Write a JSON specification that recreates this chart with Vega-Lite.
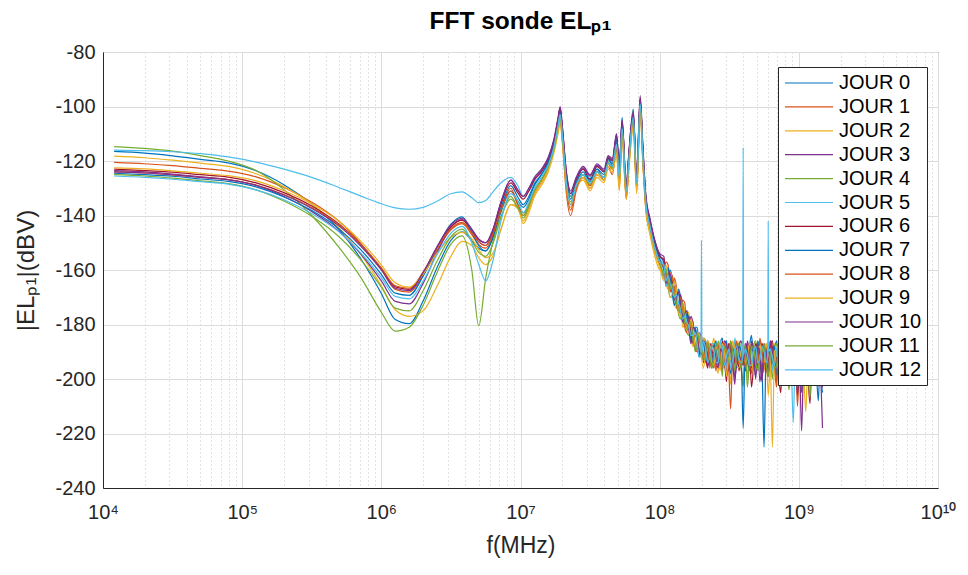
{
"$schema": "https://vega.github.io/schema/vega-lite/v6.json",
"width": 835, "height": 436,
"autosize": {"type": "none"},
"padding": {"left": 103, "top": 52, "right": 30, "bottom": 87},
"background": "white",
"title": {"text": "FFT sonde ELₚ₁", "fontSize": 24.5, "fontWeight": "bold", "font": "Liberation Sans", "color": "#000000", "anchor": "middle", "offset": 8},
"config": {"view": {"stroke": "#262626", "strokeWidth": 1}, "font": "Liberation Sans"},
"data": {"values": [
{"f":12023,"J0":-116.5,"J1":-120.5,"J2":-118.2,"J3":-123.5,"J4":-114.7,"J5":-116,"J6":-123,"J7":-124.5,"J8":-124,"J9":-122.5,"J10":-124,"J11":-125,"J12":-125.5},
{"f":19953,"J0":-117.1,"J1":-121.0,"J2":-118.8,"J3":-124.0,"J4":-115.4,"J5":-116.2,"J6":-123.5,"J7":-125.0,"J8":-124.4,"J9":-122.9,"J10":-124.4,"J11":-125.5,"J12":-126},
{"f":31623,"J0":-118.1,"J1":-121.7,"J2":-119.7,"J3":-124.8,"J4":-116.4,"J5":-116.6,"J6":-124.1,"J7":-125.6,"J8":-125.1,"J9":-123.6,"J10":-125.1,"J11":-126.3,"J12":-126.7},
{"f":50119,"J0":-119.4,"J1":-122.7,"J2":-120.8,"J3":-125.8,"J4":-118.0,"J5":-117.3,"J6":-125.0,"J7":-126.6,"J8":-126.0,"J9":-124.5,"J10":-126.0,"J11":-127.3,"J12":-127.6},
{"f":79433,"J0":-120.7,"J1":-123.7,"J2":-122.0,"J3":-126.8,"J4":-120.0,"J5":-118.5,"J6":-125.9,"J7":-127.5,"J8":-126.8,"J9":-125.4,"J10":-126.9,"J11":-128.3,"J12":-128.5},
{"f":125893,"J0":-123.6,"J1":-125.8,"J2":-124.7,"J3":-129.0,"J4":-123.5,"J5":-120.4,"J6":-128.0,"J7":-129.5,"J8":-128.8,"J9":-127.3,"J10":-128.9,"J11":-130.6,"J12":-130.6},
{"f":199526,"J0":-128.7,"J1":-129.7,"J2":-129.4,"J3":-133.0,"J4":-130.5,"J5":-123,"J6":-131.6,"J7":-133.2,"J8":-132.3,"J9":-130.9,"J10":-132.5,"J11":-134.7,"J12":-134.2},
{"f":316228,"J0":-135.8,"J1":-135.1,"J2":-135.8,"J3":-138.5,"J4":-140,"J5":-126,"J6":-136.5,"J7":-138.2,"J8":-137.1,"J9":-135.7,"J10":-137.4,"J11":-140.3,"J12":-139.3},
{"f":501187,"J0":-145.4,"J1":-142.3,"J2":-144.7,"J3":-146.0,"J4":-152,"J5":-129.8,"J6":-143.3,"J7":-145.1,"J8":-143.6,"J9":-142.3,"J10":-144,"J11":-148,"J12":-146.2},
{"f":707946,"J0":-155.7,"J1":-150.1,"J2":-154.1,"J3":-154.0,"J4":-162.5,"J5":-132.8,"J6":-150.5,"J7":-152.4,"J8":-150.5,"J9":-149.3,"J10":-151.1,"J11":-156.1,"J12":-153.6},
{"f":1000000,"J0":-168.6,"J1":-159.8,"J2":-165.8,"J3":-164.0,"J4":-175.5,"J5":-135.7,"J6":-159.5,"J7":-161.6,"J8":-159.2,"J9":-158.1,"J10":-160,"J11":-166.3,"J12":-162.8},
{"f":1258925,"J0":-178.2,"J1":-167.1,"J2":-174.6,"J3":-171.5,"J4":-182.4,"J5":-137.2,"J6":-166.2,"J7":-168.5,"J8":-165.8,"J9":-164.7,"J10":-166.7,"J11":-174,"J12":-169.7},
{"f":1584893,"J0":-179.7,"J1":-168.1,"J2":-177,"J3":-172.4,"J4":-181,"J5":-137.7,"J6":-167.1,"J7":-169.3,"J8":-166.7,"J9":-166.3,"J10":-167.6,"J11":-175,"J12":-170.6},
{"f":1995262,"J0":-171.4,"J1":-162,"J2":-175,"J3":-164.9,"J4":-173,"J5":-137,"J6":-160.9,"J7":-162.3,"J8":-160.8,"J9":-161.5,"J10":-161,"J11":-167.6,"J12":-164.1},
{"f":2511886,"J0":-159.2,"J1":-152.9,"J2":-166,"J3":-153.7,"J4":-161,"J5":-134.8,"J6":-151.7,"J7":-151.8,"J8":-152,"J9":-154,"J10":-151.5,"J11":-156.8,"J12":-154.4},
{"f":3162278,"J0":-149.1,"J1":-145.3,"J2":-155,"J3":-144.4,"J4":-150.5,"J5":-132,"J6":-144.1,"J7":-143.2,"J8":-144.8,"J9":-148,"J10":-143.5,"J11":-147.8,"J12":-146.5},
{"f":3801894,"J0":-146,"J1":-143,"J2":-149.5,"J3":-141.5,"J4":-147.5,"J5":-131.3,"J6":-141.7,"J7":-140.5,"J8":-142.5,"J9":-146.2,"J10":-141,"J11":-145,"J12":-144},
{"f":4466836,"J0":-149.2,"J1":-147,"J2":-151,"J3":-145.3,"J4":-160,"J5":-133.5,"J6":-145.9,"J7":-146.1,"J8":-146.3,"J9":-148.5,"J10":-145,"J11":-149.5,"J12":-150},
{"f":5011872,"J0":-152,"J1":-150.7,"J2":-155.5,"J3":-148.7,"J4":-180.5,"J5":-135.3,"J6":-149.6,"J7":-151.1,"J8":-149.7,"J9":-152.5,"J10":-148.7,"J11":-153.5,"J12":-158},
{"f":5623413,"J0":-153,"J1":-152,"J2":-158,"J3":-150,"J4":-163,"J5":-134.5,"J6":-151,"J7":-153,"J8":-151,"J9":-155.5,"J10":-150,"J11":-155,"J12":-164},
{"f":6309573,"J0":-148.6,"J1":-147.6,"J2":-155,"J3":-145.4,"J4":-150,"J5":-131.5,"J6":-146.4,"J7":-148.2,"J8":-147,"J9":-154,"J10":-145.4,"J11":-150.6,"J12":-157},
{"f":7244360,"J0":-138.7,"J1":-137.7,"J2":-145,"J3":-135,"J4":-140.5,"J5":-128,"J6":-136,"J7":-137.4,"J8":-138,"J9":-145,"J10":-135,"J11":-140.7,"J12":-142},
{"f":8511380,"J0":-131,"J1":-130,"J2":-136,"J3":-127,"J4":-134,"J5":-126,"J6":-128,"J7":-129,"J8":-131,"J9":-136,"J10":-127,"J11":-133,"J12":-132},
{"f":9549926,"J0":-134.6,"J1":-136,"J2":-136.5,"J3":-130.6,"J4":-137,"J5":-129,"J6":-131.6,"J7":-133.2,"J8":-135.8,"J9":-137.5,"J10":-130.6,"J11":-137.2,"J12":-134.6},
{"f":10471285,"J0":-137,"J1":-140,"J2":-143,"J3":-133,"J4":-141,"J5":-133,"J6":-134,"J7":-136,"J8":-139,"J9":-142,"J10":-133,"J11":-140,"J12":-139},
{"f":11481536,"J0":-134,"J1":-137,"J2":-139,"J3":-130,"J4":-137,"J5":-131,"J6":-131,"J7":-133,"J8":-136,"J9":-138,"J10":-130,"J11":-136,"J12":-135},
{"f":12589254,"J0":-129,"J1":-132,"J2":-133,"J3":-126,"J4":-131,"J5":-128,"J6":-127,"J7":-128.5,"J8":-131,"J9":-132,"J10":-126.5,"J11":-131,"J12":-130},
{"f":14125375,"J0":-125,"J1":-128,"J2":-129,"J3":-123,"J4":-127,"J5":-125,"J6":-124,"J7":-125,"J8":-127,"J9":-128,"J10":-123.5,"J11":-127,"J12":-126},
{"f":15848932,"J0":-120,"J1":-123,"J2":-124,"J3":-118.5,"J4":-122,"J5":-121,"J6":-119.5,"J7":-120.5,"J8":-122,"J9":-123,"J10":-119,"J11":-122,"J12":-121.5},
{"f":17378008,"J0":-114,"J1":-115,"J2":-117,"J3":-112,"J4":-116,"J5":-115,"J6":-113,"J7":-114,"J8":-115,"J9":-116,"J10":-112.5,"J11":-115.5,"J12":-115},
{"f":18620871,"J0":-105,"J1":-108,"J2":-110,"J3":-104,"J4":-108,"J5":-107,"J6":-105,"J7":-106,"J8":-107,"J9":-109,"J10":-104.5,"J11":-107.5,"J12":-107},
{"f":19275249,"J0":-100.5,"J1":-104,"J2":-106,"J3":-100,"J4":-104.5,"J5":-104,"J6":-101,"J7":-102,"J8":-103,"J9":-105,"J10":-100.5,"J11":-103.5,"J12":-103},
{"f":19952623,"J0":-108,"J1":-112,"J2":-113,"J3":-107,"J4":-111,"J5":-110,"J6":-108,"J7":-109,"J8":-111,"J9":-112,"J10":-107,"J11":-110.5,"J12":-110},
{"f":21379621,"J0":-128,"J1":-132,"J2":-131,"J3":-124,"J4":-129,"J5":-127,"J6":-125,"J7":-126,"J8":-130,"J9":-129,"J10":-124.5,"J11":-128,"J12":-128},
{"f":22908677,"J0":-133,"J1":-140,"J2":-137,"J3":-131,"J4":-136,"J5":-133,"J6":-132,"J7":-134,"J8":-138,"J9":-136,"J10":-132,"J11":-135,"J12":-136},
{"f":25118864,"J0":-128,"J1":-131,"J2":-130,"J3":-126,"J4":-129,"J5":-127,"J6":-127,"J7":-128,"J8":-130,"J9":-129,"J10":-126.5,"J11":-129,"J12":-129},
{"f":28183829,"J0":-125,"J1":-126,"J2":-127,"J3":-122,"J4":-125,"J5":-123,"J6":-123,"J7":-124,"J8":-126,"J9":-126,"J10":-122.5,"J11":-125,"J12":-125},
{"f":31622777,"J0":-126.5,"J1":-130,"J2":-131,"J3":-125,"J4":-129,"J5":-126,"J6":-127,"J7":-127.5,"J8":-129,"J9":-130,"J10":-125.5,"J11":-128.5,"J12":-128},
{"f":35481339,"J0":-123,"J1":-125,"J2":-126,"J3":-121,"J4":-124,"J5":-122,"J6":-122,"J7":-123,"J8":-124,"J9":-125,"J10":-121.5,"J11":-124,"J12":-124},
{"f":39810717,"J0":-127,"J1":-127,"J2":-128,"J3":-123,"J4":-126,"J5":-124,"J6":-124,"J7":-125,"J8":-126,"J9":-127,"J10":-123.5,"J11":-126,"J12":-126},
{"f":42657952,"J0":-118.5,"J1":-122,"J2":-123,"J3":-118,"J4":-120.5,"J5":-120,"J6":-119,"J7":-119.5,"J8":-121,"J9":-122,"J10":-118.5,"J11":-120.5,"J12":-121},
{"f":45708819,"J0":-122,"J1":-125,"J2":-124,"J3":-119,"J4":-123,"J5":-121,"J6":-120,"J7":-121,"J8":-123,"J9":-123,"J10":-119.5,"J11":-122.5,"J12":-122},
{"f":48977882,"J0":-110,"J1":-116,"J2":-118,"J3":-110,"J4":-114,"J5":-113,"J6":-111,"J7":-112,"J8":-115,"J9":-117,"J10":-111,"J11":-114,"J12":-114},
{"f":51286138,"J0":-124,"J1":-130,"J2":-131,"J3":-122,"J4":-126,"J5":-125,"J6":-123,"J7":-124,"J8":-128,"J9":-129,"J10":-123,"J11":-126,"J12":-126},
{"f":53703180,"J0":-104,"J1":-110,"J2":-112,"J3":-105,"J4":-109,"J5":-108,"J6":-106,"J7":-107,"J8":-109,"J9":-111,"J10":-105.5,"J11":-108.5,"J12":-108},
{"f":57543994,"J0":-132,"J1":-134,"J2":-134,"J3":-128,"J4":-131,"J5":-130,"J6":-129,"J7":-130,"J8":-133,"J9":-133,"J10":-129,"J11":-131,"J12":-131},
{"f":60255959,"J0":-117,"J1":-121,"J2":-122,"J3":-116,"J4":-119,"J5":-119,"J6":-117,"J7":-118,"J8":-120,"J9":-121,"J10":-116.5,"J11":-119,"J12":-119},
{"f":64565423,"J0":-101,"J1":-106,"J2":-108,"J3":-102,"J4":-105,"J5":-105,"J6":-103,"J7":-104,"J8":-105,"J9":-107,"J10":-102.5,"J11":-105,"J12":-104},
{"f":68391165,"J0":-128,"J1":-130,"J2":-132,"J3":-125,"J4":-129,"J5":-127,"J6":-126,"J7":-127,"J8":-130,"J9":-131,"J10":-125.5,"J11":-128.5,"J12":-128},
{"f":72443596,"J0":-99,"J1":-101,"J2":-103,"J3":-96,"J4":-100,"J5":-100,"J6":-97,"J7":-98,"J8":-100,"J9":-102,"J10":-97,"J11":-99.5,"J12":-99},
{"f":75857758,"J0":-116,"J1":-121,"J2":-122,"J3":-115,"J4":-119,"J5":-120,"J6":-117,"J7":-118,"J8":-120,"J9":-121,"J10":-116,"J11":-119,"J12":-119},
{"f":79432823,"J0":-133,"J1":-137,"J2":-138,"J3":-132,"J4":-136,"J5":-134,"J6":-134,"J7":-135,"J8":-136,"J9":-137,"J10":-133,"J11":-135.5,"J12":-135},
{"f":85113804,"J0":-142,"J1":-146,"J2":-147,"J3":-141,"J4":-144,"J5":-143,"J6":-142,"J7":-143,"J8":-145,"J9":-146,"J10":-141.5,"J11":-144,"J12":-144},
{"f":91201084,"J0":-149,"J1":-152,"J2":-154,"J3":-148,"J4":-151,"J5":-150,"J6":-149,"J7":-150,"J8":-151,"J9":-153,"J10":-148.5,"J11":-151,"J12":-151},
{"f":1e8,"J0":-155,"J1":-158,"J2":-160,"J3":-154,"J4":-157,"J5":-156,"J6":-155,"J7":-156,"J8":-157,"J9":-159,"J10":-154.5,"J11":-157,"J12":-157},
{"f":1.0715e8,"J0":-157,"J1":-162,"J2":-161,"J3":-155,"J4":-163,"J5":-158,"J6":-156,"J7":-160,"J8":-159,"J9":-164,"J10":-157,"J11":-161,"J12":-158},
{"f":1.1092e8,"J0":-166,"J1":-157,"J2":-165,"J3":-162,"J4":-159,"J5":-166,"J6":-163,"J7":-164,"J8":-161,"J9":-158,"J10":-165,"J11":-160,"J12":-164},
{"f":1.1482e8,"J0":-164,"J1":-158,"J2":-167,"J3":-160,"J4":-166,"J5":-163,"J6":-161,"J7":-159,"J8":-165,"J9":-162,"J10":-163,"J11":-164,"J12":-162},
{"f":1.1885e8,"J0":-160,"J1":-167,"J2":-161,"J3":-168,"J4":-170,"J5":-162,"J6":-166,"J7":-163,"J8":-168,"J9":-170,"J10":-161,"J11":-167,"J12":-165},
{"f":1.2303e8,"J0":-163,"J1":-168,"J2":-163,"J3":-165,"J4":-170,"J5":-167,"J6":-164,"J7":-168,"J8":-162,"J9":-169,"J10":-166,"J11":-165,"J12":-167},
{"f":1.2735e8,"J0":-171,"J1":-163,"J2":-172,"J3":-164,"J4":-166,"J5":-172,"J6":-170,"J7":-173,"J8":-167,"J9":-164,"J10":-171,"J11":-169,"J12":-170},
{"f":1.3183e8,"J0":-172,"J1":-166,"J2":-174,"J3":-168,"J4":-169,"J5":-171,"J6":-169,"J7":-171,"J8":-173,"J9":-167,"J10":-170,"J11":-172,"J12":-169},
{"f":1.3646e8,"J0":-167,"J1":-174,"J2":-169,"J3":-175,"J4":-176,"J5":-169,"J6":-173,"J7":-168,"J8":-175,"J9":-175,"J10":-168,"J11":-175,"J12":-172},
{"f":1.4125e8,"J0":-170,"J1":-176,"J2":-171,"J3":-169,"J4":-178,"J5":-174,"J6":-175,"J7":-172,"J8":-170,"J9":-177,"J10":-173,"J11":-174,"J12":-175},
{"f":1.4622e8,"J0":-178,"J1":-171,"J2":-181,"J3":-173,"J4":-173,"J5":-179,"J6":-177,"J7":-178,"J8":-174,"J9":-172,"J10":-179,"J11":-172,"J12":-178},
{"f":1.5136e8,"J0":-179,"J1":-172,"J2":-180,"J3":-175,"J4":-176,"J5":-176,"J6":-178,"J7":-180,"J8":-181,"J9":-175,"J10":-176,"J11":-179,"J12":-177},
{"f":1.5668e8,"J0":-175,"J1":-181,"J2":-175,"J3":-182,"J4":-183,"J5":-177,"J6":-181,"J7":-176,"J8":-183,"J9":-182,"J10":-175,"J11":-182,"J12":-179},
{"f":1.6218e8,"J0":-178,"J1":-182,"J2":-176,"J3":-181,"J4":-184,"J5":-181,"J6":-177,"J7":-179,"J8":-178,"J9":-183,"J10":-182,"J11":-180,"J12":-181},
{"f":1.6788e8,"J0":-185,"J1":-178,"J2":-185,"J3":-177,"J4":-179,"J5":-186,"J6":-183,"J7":-186,"J8":-180,"J9":-178,"J10":-187,"J11":-179,"J12":-184},
{"f":1.7378e8,"J0":-186,"J1":-179,"J2":-188,"J3":-180,"J4":-182,"J5":-185,"J6":-187,"J7":-184,"J8":-183,"J9":-181,"J10":-181,"J11":-186,"J12":-184},
{"f":1.7989e8,"J0":-181,"J1":-188,"J2":-182,"J3":-188,"J4":-190,"J5":-181,"J6":-184,"J7":-181,"J8":-189,"J9":-188,"J10":-182,"J11":-189,"J12":-183},
{"f":1.8621e8,"J0":-181,"J1":-189,"J2":-183,"J3":-187,"J4":-188,"J5":-184,"J6":-185,"J7":-188,"J8":-190,"J9":-186,"J10":-185,"J11":-183,"J12":-187},
{"f":1.9275e8,"J0":-189,"J1":-185,"J2":-191,"J3":-183,"J4":-185,"J5":-191,"J6":-191,"J7":-192,"J8":-184,"J9":-183,"J10":-190,"J11":-186,"J12":-192},
{"f":1.9815e8,"J12":-191},
{"f":1.9953e8,"J0":-190,"J1":-184,"J2":-192,"J3":-185,"J4":-191,"J5":-190,"J6":-189,"J7":-187,"J8":-186,"J9":-192,"J10":-191,"J11":-188,"J12":-149},
{"f":2.0091e8,"J12":-190},
{"f":2.0654e8,"J0":-185,"J1":-192,"J2":-185,"J3":-194,"J4":-193,"J5":-186,"J6":-186,"J7":-186,"J8":-193,"J9":-196,"J10":-186,"J11":-192,"J12":-186},
{"f":2.138e8,"J0":-186,"J1":-193,"J2":-187,"J3":-191,"J4":-189,"J5":-188,"J6":-192,"J7":-194,"J8":-189,"J9":-190,"J10":-187,"J11":-193,"J12":-189},
{"f":2.2131e8,"J0":-192,"J1":-187,"J2":-195,"J3":-186,"J4":-186,"J5":-195,"J6":-196,"J7":-190,"J8":-187,"J9":-186,"J10":-195,"J11":-187,"J12":-194},
{"f":2.2909e8,"J0":-195,"J1":-188,"J2":-190,"J3":-189,"J4":-194,"J5":-192,"J6":-187,"J7":-190,"J8":-196,"J9":-188,"J10":-193,"J11":-190,"J12":-192},
{"f":2.3714e8,"J0":-187,"J1":-193,"J2":-188,"J3":-195,"J4":-192,"J5":-187,"J6":-189,"J7":-196,"J8":-191,"J9":-194,"J10":-188,"J11":-196,"J12":-188},
{"f":2.4547e8,"J0":-188,"J1":-196,"J2":-185,"J3":-193,"J4":-190,"J5":-187,"J6":-194,"J7":-189,"J8":-191,"J9":-195,"J10":-188,"J11":-192,"J12":-190},
{"f":2.541e8,"J0":-193,"J1":-189,"J2":-194,"J3":-188,"J4":-195,"J5":-192,"J6":-188,"J7":-186,"J8":-197,"J9":-188,"J10":-193,"J11":-187,"J12":-194},
{"f":2.6303e8,"J0":-194,"J1":-187,"J2":-198,"J3":-189,"J4":-186,"J5":-193,"J6":-190,"J7":-195,"J8":-188,"J9":-191,"J10":-196,"J11":-189,"J12":-194},
{"f":2.7227e8,"J0":-187,"J1":-195,"J2":-187,"J3":-194,"J4":-190,"J5":-186,"J6":-196,"J7":-193,"J8":-189,"J9":-197,"J10":-189,"J11":-193,"J12":-187},
{"f":2.8184e8,"J0":-185,"J1":-192,"J2":-191,"J3":-197,"J4":-199,"J5":-189,"J6":-186,"J7":-192,"J8":-194,"J9":-187,"J10":-190,"J11":-195,"J12":-188},
{"f":2.9174e8,"J0":-194,"J1":-188,"J2":-196,"J3":-186,"J4":-187,"J5":-194,"J6":-192,"J7":-188,"J8":-187,"J9":-190,"J10":-195,"J11":-188,"J12":-195},
{"f":3.02e8,"J0":-197,"J1":-199,"J2":-188,"J3":-187,"J4":-192,"J5":-196,"J6":-201,"J7":-186,"J8":-190,"J9":-199,"J10":-193,"J11":-191,"J12":-192},
{"f":3.1261e8,"J0":-188,"J1":-194,"J2":-190,"J3":-197,"J4":-195,"J5":-188,"J6":-187,"J7":-194,"J8":-195,"J9":-192,"J10":-189,"J11":-194,"J12":-189},
{"f":3.2359e8,"J0":-190,"J1":-186,"J2":-202,"J3":-192,"J4":-188,"J5":-191,"J6":-189,"J7":-198,"J8":-211,"J9":-193,"J10":-187,"J11":-186,"J12":-196},
{"f":3.3497e8,"J0":-195,"J1":-190,"J2":-187,"J3":-188,"J4":-190,"J5":-197,"J6":-195,"J7":-189,"J8":-190,"J9":-186,"J10":-194,"J11":-191,"J12":-193},
{"f":3.4674e8,"J0":-186,"J1":-193,"J2":-190,"J3":-200,"J4":-195,"J5":-185,"J6":-193,"J7":-191,"J8":-189,"J9":-189,"J10":-202,"J11":-197,"J12":-189},
{"f":3.5892e8,"J0":-189,"J1":-187,"J2":-196,"J3":-193,"J4":-189,"J5":-190,"J6":-188,"J7":-196,"J8":-186,"J9":-195,"J10":-188,"J11":-189,"J12":-188},
{"f":3.7154e8,"J0":-196,"J1":-189,"J2":-186,"J3":-188,"J4":-187,"J5":-194,"J6":-197,"J7":-188,"J8":-195,"J9":-196,"J10":-191,"J11":-193,"J12":-193},
{"f":3.8459e8,"J0":-192,"J1":-196,"J2":-189,"J3":-186,"J4":-195,"J5":-187,"J6":-192,"J7":-190,"J8":-193,"J9":-190,"J10":-193,"J11":-196,"J12":-194},
{"f":3.9537e8,"J12":-192},
{"f":3.9811e8,"J0":-189,"J1":-201,"J2":-195,"J3":-191,"J4":-203,"J5":-190,"J6":-188,"J7":-218,"J8":-187,"J9":-186,"J10":-195,"J11":-190,"J12":-115},
{"f":4.0087e8,"J12":-191},
{"f":4.121e8,"J0":-197,"J1":-190,"J2":-188,"J3":-196,"J4":-188,"J5":-193,"J6":-197,"J7":-188,"J8":-196,"J9":-194,"J10":-187,"J11":-188,"J12":-189},
{"f":4.2658e8,"J0":-193,"J1":-187,"J2":-200,"J3":-186,"J4":-190,"J5":-198,"J6":-191,"J7":-193,"J8":-192,"J9":-192,"J10":-189,"J11":-203,"J12":-191},
{"f":4.4157e8,"J0":-188,"J1":-195,"J2":-194,"J3":-190,"J4":-194,"J5":-190,"J6":-189,"J7":-197,"J8":-188,"J9":-187,"J10":-196,"J11":-194,"J12":-195},
{"f":4.5709e8,"J0":-184,"J1":-194,"J2":-189,"J3":-196,"J4":-194,"J5":-188,"J6":-203,"J7":-187,"J8":-198,"J9":-190,"J10":-186,"J11":-188,"J12":-195},
{"f":4.7315e8,"J0":-194,"J1":-188,"J2":-187,"J3":-193,"J4":-188,"J5":-195,"J6":-195,"J7":-191,"J8":-193,"J9":-198,"J10":-190,"J11":-189,"J12":-190},
{"f":4.8978e8,"J0":-199,"J1":-190,"J2":-193,"J3":-190,"J4":-186,"J5":-192,"J6":-187,"J7":-196,"J8":-190,"J9":-197,"J10":-200,"J11":-194,"J12":-188},
{"f":5.0699e8,"J0":-187,"J1":-196,"J2":-192,"J3":-187,"J4":-192,"J5":-188,"J6":-190,"J7":-186,"J8":-196,"J9":-189,"J10":-188,"J11":-197,"J12":-194},
{"f":5.2481e8,"J0":-190,"J1":-185,"J2":-187,"J3":-201,"J4":-198,"J5":-195,"J6":-194,"J7":-190,"J8":-186,"J9":-188,"J10":-192,"J11":-191,"J12":-193},
{"f":5.4325e8,"J0":-195,"J1":-190,"J2":-198,"J3":-195,"J4":-187,"J5":-193,"J6":-187,"J7":-199,"J8":-189,"J9":-193,"J10":-201,"J11":-190,"J12":-188},
{"f":5.6234e8,"J0":-225,"J1":-197,"J2":-196,"J3":-187,"J4":-191,"J5":-189,"J6":-190,"J7":-194,"J8":-195,"J9":-194,"J10":-188,"J11":-187,"J12":-190},
{"f":5.821e8,"J0":-190,"J1":-187,"J2":-189,"J3":-190,"J4":-195,"J5":-195,"J6":-195,"J7":-190,"J8":-188,"J9":-187,"J10":-191,"J11":-194,"J12":-194},
{"f":5.9841e8,"J12":-191},
{"f":6.0256e8,"J0":-188,"J1":-191,"J2":-206,"J3":-193,"J4":-189,"J5":-186,"J6":-199,"J7":-188,"J8":-192,"J9":-191,"J10":-197,"J11":-199,"J12":-142},
{"f":6.0674e8,"J12":-190},
{"f":6.2373e8,"J0":-196,"J1":-193,"J2":-194,"J3":-186,"J4":-192,"J5":-190,"J6":-188,"J7":-195,"J8":-197,"J9":-194,"J10":-186,"J11":-190,"J12":-189},
{"f":6.4565e8,"J0":-194,"J1":-188,"J2":-190,"J3":-189,"J4":-200,"J5":-197,"J6":-186,"J7":-192,"J8":-189,"J9":-225,"J10":-190,"J11":-192,"J12":-192},
{"f":6.6834e8,"J0":-189,"J1":-196,"J2":-187,"J3":-195,"J4":-188,"J5":-188,"J6":-193,"J7":-188,"J8":-193,"J9":-190,"J10":-195,"J11":-196,"J12":-195},
{"f":6.9183e8,"J0":-186,"J1":-203,"J2":-194,"J3":-197,"J4":-187,"J5":-191,"J6":-192,"J7":-199,"J8":-201,"J9":-189,"J10":-194,"J11":-195,"J12":-189},
{"f":7.1614e8,"J0":-193,"J1":-188,"J2":-199,"J3":-190,"J4":-196,"J5":-195,"J6":-199,"J7":-193,"J8":-187,"J9":-197,"J10":-189,"J11":-188,"J12":-188},
{"f":7.4131e8,"J0":-200,"J1":-190,"J2":-188,"J3":-191,"J4":-193,"J5":-194,"J6":-205,"J7":-189,"J8":-188,"J9":-195,"J10":-187,"J11":-189,"J12":-194},
{"f":7.6736e8,"J0":-196,"J1":-194,"J2":-191,"J3":-194,"J4":-188,"J5":-189,"J6":-190,"J7":-187,"J8":-195,"J9":-188,"J10":-196,"J11":-194,"J12":-196},
{"f":7.9433e8,"J0":-191,"J1":-195,"J2":-199,"J3":-185,"J4":-190,"J5":-188,"J6":-189,"J7":-195,"J8":-194,"J9":-190,"J10":-199,"J11":-193,"J12":-190},
{"f":8.2224e8,"J0":-188,"J1":-189,"J2":-195,"J3":-190,"J4":-197,"J5":-196,"J6":-194,"J7":-197,"J8":-189,"J9":-193,"J10":-190,"J11":-190,"J12":-189},
{"f":8.5114e8,"J0":-187,"J1":-186,"J2":-192,"J3":-198,"J4":-204,"J5":-201,"J6":-195,"J7":-186,"J8":-190,"J9":-198,"J10":-191,"J11":-190,"J12":-187},
{"f":8.8105e8,"J0":-194,"J1":-197,"J2":-188,"J3":-193,"J4":-191,"J5":-191,"J6":-188,"J7":-190,"J8":-193,"J9":-189,"J10":-197,"J11":-195,"J12":-194},
{"f":9.1201e8,"J0":-197,"J1":-193,"J2":-186,"J3":-190,"J4":-188,"J5":-190,"J6":-191,"J7":-193,"J8":-196,"J9":-187,"J10":-195,"J11":-198,"J12":-216},
{"f":9.4406e8,"J0":-191,"J1":-189,"J2":-194,"J3":-196,"J4":-194,"J5":-195,"J6":-196,"J7":-195,"J8":-189,"J9":-198,"J10":-189,"J11":-188,"J12":-190},
{"f":9.7724e8,"J0":-190,"J1":-210,"J2":-197,"J3":-194,"J4":-195,"J5":-193,"J6":-187,"J7":-191,"J8":-187,"J9":-193,"J10":-206,"J11":-188,"J12":-192},
{"f":1.0116e9,"J0":-197,"J1":-194,"J2":-189,"J3":-191,"J4":-188,"J5":-190,"J6":-191,"J7":-188,"J8":-197,"J9":-190,"J10":-196,"J11":-197,"J12":-196},
{"f":1.0471e9,"J0":-205,"J1":-189,"J2":-191,"J3":-188,"J4":-191,"J5":-196,"J6":-198,"J7":-200,"J8":-193,"J9":-196,"J10":-219,"J11":-194,"J12":-195},
{"f":1.0839e9,"J0":-190,"J1":-192,"J2":-198,"J3":-196,"J4":-195,"J5":-193,"J6":-187,"J7":-197,"J8":-189,"J9":-194,"J10":-193,"J11":-189,"J12":-189},
{"f":1.122e9,"J0":-189,"J1":-196,"J2":-212,"J3":-202,"J4":-186,"J5":-189,"J6":-193,"J7":-187,"J8":-199,"J9":-190,"J10":-190,"J11":-191,"J12":-190},
{"f":1.1614e9,"J0":-195,"J1":-190,"J2":-193,"J3":-188,"J4":-192,"J5":-197,"J6":-199,"J7":-191,"J8":-195,"J9":-188,"J10":-188,"J11":-196,"J12":-194},
{"f":1.2023e9,"J0":-195,"J1":-191,"J2":-190,"J3":-191,"J4":-199,"J5":-192,"J6":-209,"J7":-196,"J8":-190,"J9":-194,"J10":-197,"J11":-207,"J12":-197},
{"f":1.2445e9,"J0":-190,"J1":-197,"J2":-188,"J3":-194,"J4":-194,"J5":-189,"J6":-192,"J7":-194,"J8":-188,"J9":-197,"J10":-195,"J11":-190,"J12":-190},
{"f":1.2882e9,"J0":-188,"J1":-199,"J2":-195,"J3":-196,"J4":-192,"J5":-199,"J6":-190,"J7":-192,"J8":-186,"J9":-188,"J10":-192,"J11":-189,"J12":-191},
{"f":1.3335e9,"J0":-196,"J1":-192,"J2":-196,"J3":-192,"J4":-190,"J5":-196,"J6":-196,"J7":-190,"J8":-194,"J9":-191,"J10":-191,"J11":-198,"J12":-196},
{"f":1.3804e9,"J0":-208,"J1":-188,"J2":-187,"J3":-189,"J4":-197,"J5":-190,"J6":-194,"J7":-189,"J8":-197,"J9":-202,"J10":-189,"J11":-196,"J12":-194},
{"f":1.4289e9,"J0":-189,"J1":-197,"J2":-191,"J3":-197,"J4":-195,"J5":-191,"J6":-189,"J7":-198,"J8":-189,"J9":-196,"J10":-198,"J11":-190,"J12":-191},
{"f":1.4791e9,"J0":-192,"J1":-194,"J2":-198,"J3":-218,"J4":-190,"J5":-195,"J6":-201,"J7":-205,"J8":-191,"J9":-193,"J10":-203,"J11":-192,"J12":-189}
]},
"transform": [
  {"fold": ["J0","J1","J2","J3","J4","J5","J6","J7","J8","J9","J10","J11","J12"], "as": ["serie","v"]},
  {"filter": "isValid(datum.v)"}
],
"mark": {"type": "line", "strokeWidth": 1.2, "interpolate": "monotone", "clip": true},
"encoding": {
  "x": {"field": "f", "type": "quantitative",
    "scale": {"type": "log", "domain": [10000, 10000000000], "nice": false},
    "axis": {
      "title": "f(MHz)", "titleFontSize": 23, "titleFontWeight": "normal", "titleColor": "#262626", "titlePadding": 12, "titleFont": "Liberation Sans",
      "values": [1e4,2e4,3e4,4e4,5e4,6e4,7e4,8e4,9e4,1e5,2e5,3e5,4e5,5e5,6e5,7e5,8e5,9e5,1e6,2e6,3e6,4e6,5e6,6e6,7e6,8e6,9e6,1e7,2e7,3e7,4e7,5e7,6e7,7e7,8e7,9e7,1e8,2e8,3e8,4e8,5e8,6e8,7e8,8e8,9e8,1e9,2e9,3e9,4e9,5e9,6e9,7e9,8e9,9e9,1e10],
      "labelExpr": "abs(log(datum.value)/LN10 - round(log(datum.value)/LN10)) < 0.001 ? '10' + (round(log(datum.value)/LN10) == 10 ? '¹⁰' : substring('⁰¹²³⁴⁵⁶⁷⁸⁹', round(log(datum.value)/LN10), round(log(datum.value)/LN10) + 1)) : ''",
      "labelFontSize": 20, "labelColor": "#262626", "labelPadding": 14, "labelOverlap": false, "labelFlush": false, "labelFont": "Liberation Sans",
      "ticks": false, "domainColor": "#262626",
      "grid": true,
      "gridColor": {"condition": {"test": "abs(log(datum.value)/LN10 - round(log(datum.value)/LN10)) < 0.001", "value": "#dcdcdc"}, "value": "#c4c4c4"},
      "gridDash": {"condition": {"test": "abs(log(datum.value)/LN10 - round(log(datum.value)/LN10)) < 0.001", "value": []}, "value": [1, 3]},
      "gridWidth": 1
    }},
  "y": {"field": "v", "type": "quantitative",
    "scale": {"domain": [-240, -80], "nice": false},
    "axis": {
      "title": "|ELₚ₁|(dBV)", "titleFontSize": 24, "titleFontWeight": "normal", "titleColor": "#262626", "titlePadding": 16, "titleFont": "Liberation Sans",
      "values": [-240,-220,-200,-180,-160,-140,-120,-100,-80],
      "labelExpr": "replace(datum.label, '−', '-')",
      "labelFontSize": 20, "labelColor": "#262626", "labelPadding": 8, "labelFont": "Liberation Sans",
      "ticks": false, "domainColor": "#262626", "grid": true, "gridColor": "#dcdcdc"
    }},
  "color": {"field": "serie", "type": "nominal",
    "scale": {"domain": ["J0","J1","J2","J3","J4","J5","J6","J7","J8","J9","J10","J11","J12"],
              "range": ["#0072BD","#D95319","#EDB120","#7E2F8E","#77AC30","#4DBEEE","#A2142F","#0072BD","#D95319","#EDB120","#7E2F8E","#77AC30","#4DBEEE"]},
    "legend": {
      "title": null, "orient": "none", "legendX": 675, "legendY": 15, "direction": "vertical",
      "symbolType": "M-2.4,0H2.4", "symbolSize": 400, "symbolStrokeWidth": 1.2,
      "labelExpr": "'JOUR ' + substring(datum.label, 1)",
      "labelFontSize": 20, "labelColor": "#000000", "labelFont": "Liberation Sans",
      "strokeColor": "#262626", "fillColor": "#ffffff", "padding": 5,
      "rowPadding": 2.9, "symbolOffset": 15, "labelOffset": 19, "offset": 0
    }}
}
}
